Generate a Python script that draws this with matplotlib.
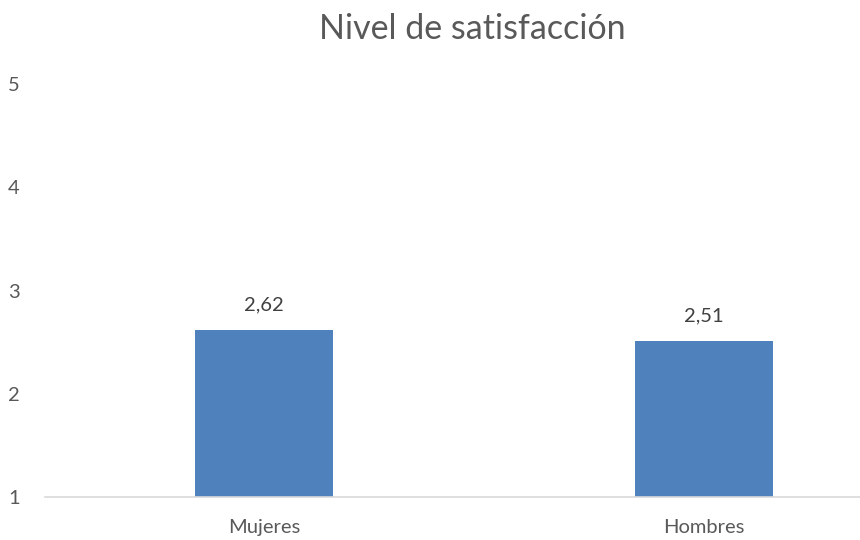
import matplotlib.pyplot as plt

categorias = ["Mujeres", "Hombres"]
valores = [2.62, 2.51]
etiquetas = ["2,62", "2,51"]
yticks = [1, 2, 3, 4, 5]

plt.rcParams['font.family'] = ['Lato', 'DejaVu Sans']
gris = '#595959'

fig = plt.figure(figsize=(8.6, 5.4), dpi=100)
ax = fig.add_axes([45 / 860, 43 / 540, 815 / 860, 413 / 540])

x = list(range(len(categorias)))
bars = ax.bar(x, [v - 1 for v in valores], bottom=1, width=0.314, color='#4F81BD')

# etiquetas de datos encima de cada barra
for b, txt in zip(bars, etiquetas):
    ax.annotate(txt, (b.get_x() + b.get_width() / 2, b.get_y() + b.get_height()),
                xytext=(0, 12), textcoords='offset points', ha='center', va='bottom',
                fontsize=14.5, color='#404040')

ax.set_xlim(-0.498, 1.355)
ax.set_ylim(1, 5)
ax.set_yticks(yticks)
ax.set_yticklabels([str(t) for t in yticks])
ax.set_xticks(x)
ax.set_xticklabels(categorias)
ax.tick_params(axis='both', length=0, labelsize=14.5, labelcolor=gris)
ax.tick_params(axis='y', pad=18)
ax.tick_params(axis='x', pad=16)

for s in ['top', 'right', 'left']:
    ax.spines[s].set_visible(False)
ax.spines['bottom'].set_color('#D9D9D9')
ax.spines['bottom'].set_linewidth(1.2)

fig.text(472 / 860, 1 - 29 / 540, "Nivel de satisfacción", ha='center', va='center',
         fontsize=24.5, color=gris)

fig.savefig("out.png", dpi=100)
